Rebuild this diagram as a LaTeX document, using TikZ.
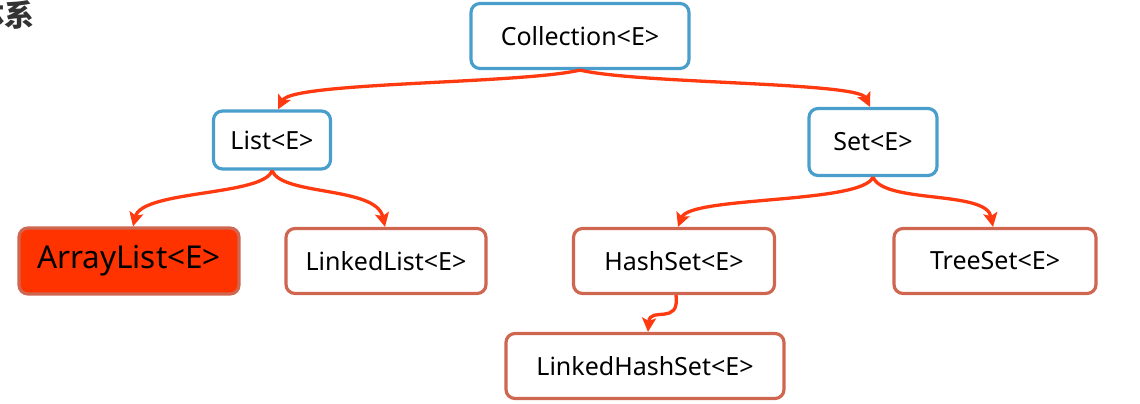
\documentclass[tikz,border=0pt]{standalone}
\usepackage{fontspec}
\setmainfont{Noto Sans}
\newfontfamily\cjk{Noto Sans CJK SC}
\usetikzlibrary{arrows.meta}
\definecolor{bblue}{HTML}{4A9ECC}
\definecolor{bbrown}{HTML}{CF6650}
\definecolor{afill}{HTML}{FF3300}
\definecolor{arr}{HTML}{FF3A10}
\begin{document}
\begin{tikzpicture}[x=1pt,y=-1pt,
  ifbox/.style={draw=bblue,line width=3.2pt,rounded corners=9pt,fill=white,inner sep=0pt,font=\fontsize{25}{28}\selectfont},
  clbox/.style={draw=bbrown,line width=3.2pt,rounded corners=9pt,fill=white,inner sep=0pt,font=\fontsize{25}{28}\selectfont},
  conn/.style={draw=arr,line width=3.3pt,-{Stealth[length=14pt,width=14pt,inset=3pt]}}]
\useasboundingbox (0,0) rectangle (1140,404);
\node[anchor=east,inner sep=0pt,text=black!80,font=\cjk\bfseries\fontsize{30}{34}\selectfont] (title) at (35,15) {体系};
\node[ifbox,minimum width=218pt,minimum height=65pt] (coll) at (580,36) {Collection<E>};
\node[ifbox,minimum width=117pt,minimum height=58pt] (list) at (272,140) {List<E>};
\node[ifbox,minimum width=128pt,minimum height=67pt] (set) at (873,142) {Set<E>};
\node[clbox,fill=afill,minimum width=220pt,minimum height=66pt,font=\fontsize{31.5}{34}\selectfont] (alist) at (129,261) {ArrayList<E>};
\node[clbox,minimum width=200pt,minimum height=65pt] (llist) at (386,261) {LinkedList<E>};
\node[clbox,minimum width=201pt,minimum height=65pt] (hset) at (674,261) {HashSet<E>};
\node[clbox,minimum width=202pt,minimum height=65pt] (tset) at (995,261) {TreeSet<E>};
\node[clbox,minimum width=278pt,minimum height=65pt] (lhset) at (645,366) {LinkedHashSet<E>};
\draw[conn] (coll.south) .. controls (520,84) and (292,82) .. ([xshift=6pt]list.north);
\draw[conn] (coll.south) .. controls (640,84) and (858,82) .. ([xshift=-3pt]set.north);
\draw[conn] (list.south) .. controls (264,196) and (142,190) .. ([xshift=4pt]alist.north);
\draw[conn] (list.south) .. controls (282,196) and (376,186) .. ([xshift=-1pt]llist.north);
\draw[conn] (set.south) .. controls (862,204) and (690,196) .. ([xshift=4pt]hset.north);
\draw[conn] (set.south) .. controls (884,204) and (986,190) .. ([xshift=-2pt]tset.north);
\draw[conn] ([xshift=2pt]hset.south) .. controls (680,326) and (650,306) .. ([xshift=3pt]lhset.north);
\end{tikzpicture}
\end{document}
